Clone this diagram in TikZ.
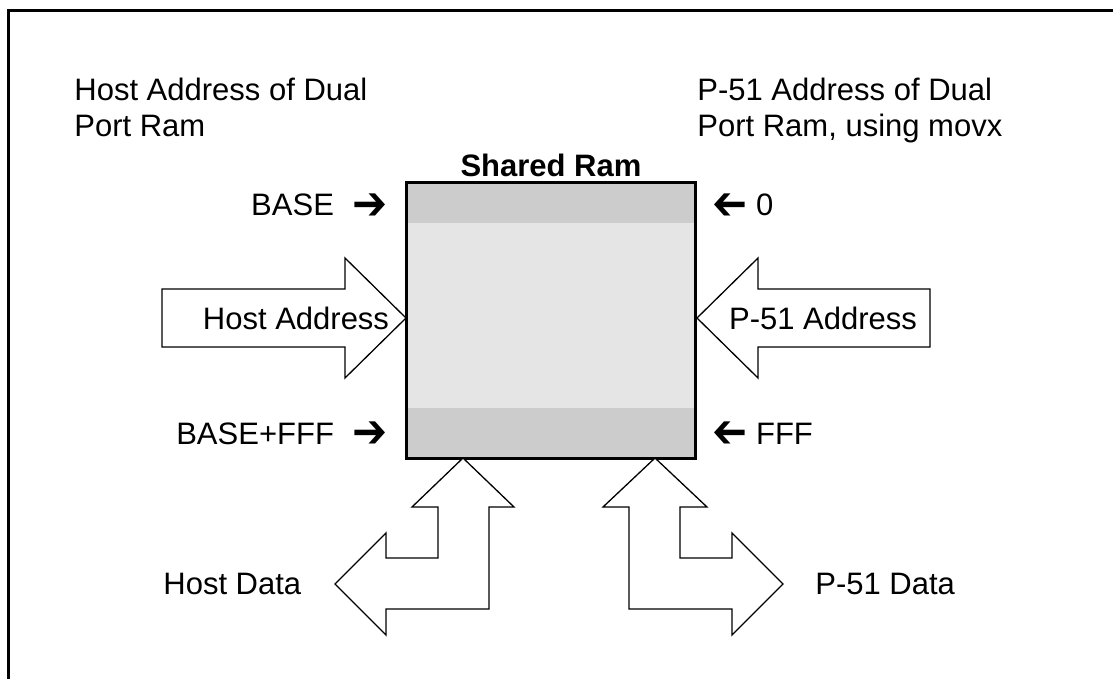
\documentclass[tikz,border=0pt]{standalone}
\usepackage{fontspec}
\setmainfont{Liberation Sans}
\newfontfamily\symfont{DejaVu Sans}
\definecolor{bandgray}{gray}{0.8}
\definecolor{ramgray}{gray}{0.9}
\newcommand{\rarr}{\raisebox{-0.1em}{\scalebox{1.35}[1.5]{\symfont\char"2794}}}
\newcommand{\larr}{\raisebox{-0.1em}{\scalebox{-1.35}[1.5]{\symfont\char"2794}}}
\tikzset{
  lbl/.style={inner sep=0pt, font=\fontsize{15.5}{17.8}\selectfont},
  bus/.style={draw, fill=white, line width=0.65pt, line join=miter},
}
\begin{document}
\begin{tikzpicture}[x=0.5pt, y=-0.5pt]
      \useasboundingbox (0,0) rectangle (1113,679);
      % frame
      \draw[line width=1.5pt] (8,690) -- (8,11) -- (1120,11);
      % shared ram
      \coordinate (ramNW) at (406,183);
      \coordinate (ramSE) at (695,458);
      \fill[ramgray] (ramNW) rectangle (ramSE);
      \fill[bandgray] (406,183) rectangle (695,223);
      \fill[bandgray] (406,408) rectangle (695,458);
      \draw[line width=1.5pt] (ramNW) rectangle (ramSE);
      \node[lbl, anchor=base, font=\fontsize{15.5}{17.8}\selectfont\bfseries] (title) at (551,177) {Shared Ram};
      % address labels
      \draw
        (74,78) node[lbl, anchor=north west, align=left] (hosthdr) {Host Address of Dual\\Port Ram}
        (697,78) node[lbl, anchor=north west, align=left] (p51hdr) {P-51 Address of Dual\\Port Ram, using movx}
        (388,216) node[lbl, anchor=base east] (base) {BASE\hspace{0.6em}\rarr}
        (388,444) node[lbl, anchor=base east] (baseend) {BASE+FFF\hspace{0.6em}\rarr}
        (712,216) node[lbl, anchor=base west] (zero) {\larr\ 0}
        (712,444) node[lbl, anchor=base west] (fff) {\larr\ FFF};
      % address buses
      \draw[bus] (162,289) -- (345,289) -- (345,258) -- (406,318) -- (345,378)
        -- (345,347) -- (162,347) -- cycle;
      \draw[bus] (697,318) -- (758,258) -- (758,289) -- (930,289) -- (930,347)
        -- (758,347) -- (758,378) -- cycle;
      \node[lbl, anchor=base] (hostaddr) at (296,329) {Host Address};
      \node[lbl, anchor=base] (p51addr) at (823,329) {P-51 Address};
      % data buses
      \draw[bus] (463,458) -- (514,507) -- (489,507) -- (489,609) -- (386,609)
        -- (386,635) -- (335,584) -- (386,533) -- (386,558) -- (438,558)
        -- (438,507) -- (412,507) -- cycle;
      \draw[bus] (655,458) -- (707,507) -- (680,507) -- (680,558) -- (732,558)
        -- (732,533) -- (783,584) -- (732,635) -- (732,609) -- (629,609)
        -- (629,507) -- (603,507) -- cycle;
      \node[lbl, anchor=base west] (hostdata) at (163,594) {Host Data};
      \node[lbl, anchor=base west] (p51data) at (815,594) {P-51 Data};
    \end{tikzpicture}
\end{document}
